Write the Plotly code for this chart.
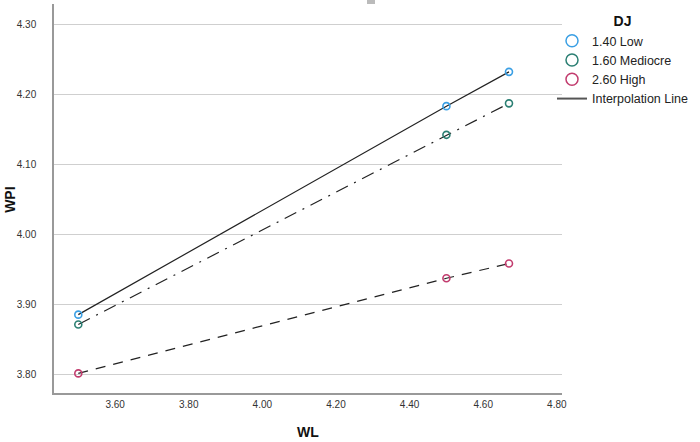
import plotly.graph_objects as go

# ---- data ----
wl = [3.50, 4.50, 4.67]
groups = ["1.40 Low", "1.60 Mediocre", "2.60 High"]
wpi_low = [3.885, 4.183, 4.232]
wpi_mediocre = [3.871, 4.142, 4.187]
wpi_high = [3.801, 3.937, 3.958]
y_ticks = [3.80, 3.90, 4.00, 4.10, 4.20, 4.30]
x_ticks = [3.60, 3.80, 4.00, 4.20, 4.40, 4.60, 4.80]

series = [wpi_low, wpi_mediocre, wpi_high]
colors = ["#3A9FE4", "#2B7F73", "#C23C6E"]
dashes = ["solid", "13px,7px,2px,7px", "10px,8px"]

FONT = "Liberation Sans, Arial, sans-serif"

fig = go.Figure()

# interpolation lines
for ys, d in zip(series, dashes):
    fig.add_trace(go.Scatter(x=wl, y=ys, mode="lines",
                             line=dict(color="#222222", width=1.2, dash=d),
                             showlegend=False, hoverinfo="skip"))
# markers
for ys, c in zip(series, colors):
    fig.add_trace(go.Scatter(x=wl, y=ys, mode="markers",
                             marker=dict(symbol="circle-open", size=7, color=c,
                                         line=dict(width=1.6, color=c)),
                             showlegend=False))
# legend entries
for name, c in zip(groups, colors):
    fig.add_trace(go.Scatter(x=[None], y=[None], mode="markers", name=name,
                             marker=dict(symbol="circle-open", size=12, color=c,
                                         line=dict(width=1.5, color=c))))
fig.add_trace(go.Scatter(x=[None], y=[None], mode="lines", name="Interpolation Line",
                         line=dict(color="#555555", width=2)))

fig.update_layout(
    width=700, height=442,
    margin=dict(l=54, r=138, t=4, b=49, autoexpand=False),
    paper_bgcolor="white", plot_bgcolor="white",
    font=dict(family=FONT, color="#222222"),
    legend=dict(
        xref="container", yref="container",
        x=552 / 700, y=1 - 8 / 442, xanchor="left", yanchor="top",
        title=dict(text="<b>DJ</b>", side="top center", font=dict(size=14, color="#111111")),
        font=dict(size=12.5, color="#222222"),
        itemwidth=30, tracegroupgap=0,
        bgcolor="rgba(0,0,0,0)",
    ),
    shapes=[dict(type="rect", xref="paper", yref="paper",
                 x0=(367 - 54) / 508, x1=(375 - 54) / 508,
                 y0=1.0, y1=1.012, fillcolor="#BBBBBB", line=dict(width=0))],
    annotations=[
        dict(text="<b>WPI</b>", xref="paper", yref="paper",
             x=-54 / 508 + 10 / 508, y=(393.3 - 200) / 389.3,
             xanchor="center", yanchor="middle", textangle=-90,
             showarrow=False, font=dict(size=14, color="#111111")),
        dict(text="<b>WL</b>", xref="paper", yref="paper",
             x=0.5, y=-(432 - 393.3) / 389.3,
             xanchor="center", yanchor="middle",
             showarrow=False, font=dict(size=14, color="#111111")),
    ],
)

fig.update_xaxes(range=[3.434, 4.814], tickvals=x_ticks, tickformat=".2f",
                 showgrid=False, zeroline=False, showline=True,
                 linecolor="#999999", linewidth=1.5, ticks="",
                 ticklabelstandoff=1,
                 tickfont=dict(size=10, color="#333333"))
fig.update_yaxes(range=[3.773, 4.329], tickvals=y_ticks, tickformat=".2f",
                 showgrid=True, gridcolor="#CFCFCF", gridwidth=1.2,
                 zeroline=False, showline=True,
                 linecolor="#999999", linewidth=1.5, ticks="",
                 ticklabelstandoff=14,
                 tickfont=dict(size=10, color="#333333"))

fig.write_html("out.html")
